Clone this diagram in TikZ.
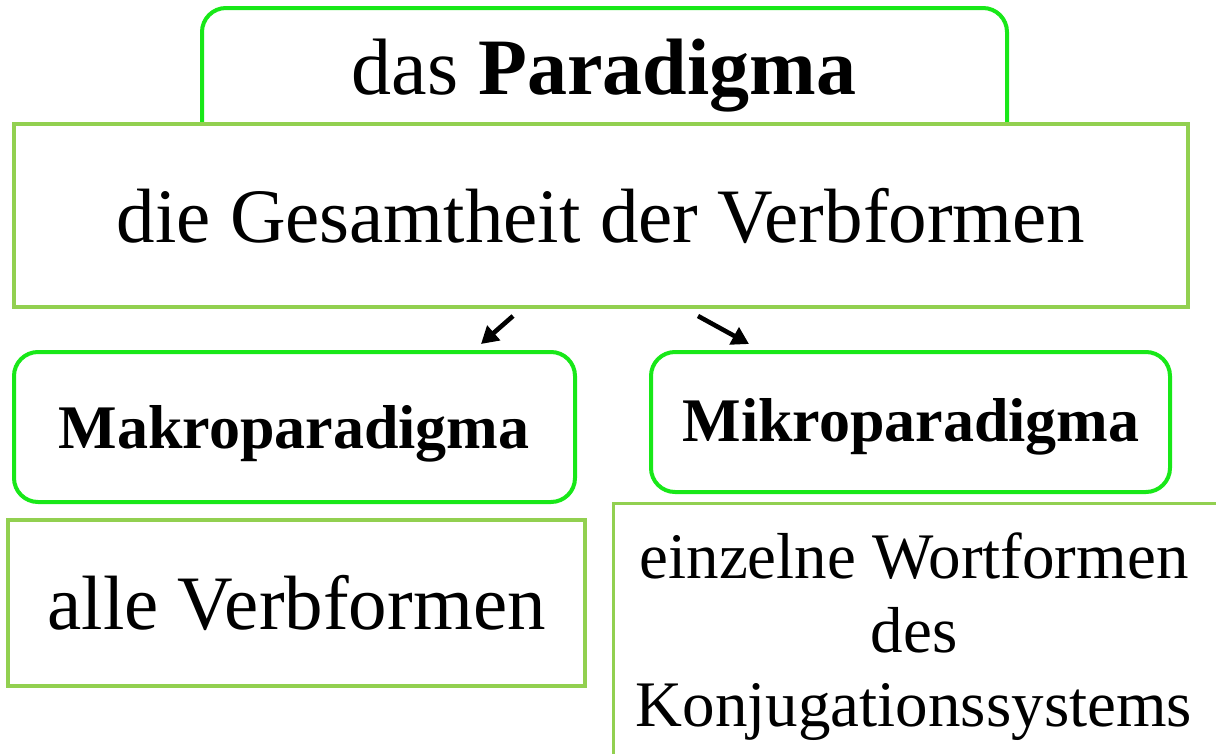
\documentclass[tikz,border=0pt]{standalone}
\usepackage{fontspec}
\setmainfont{Liberation Serif}
\usetikzlibrary{arrows.meta}
\usetikzlibrary{positioning}
\definecolor{neongreen}{RGB}{24,232,24}
\definecolor{leafgreen}{RGB}{146,208,80}
\tikzset{roundbox/.style = {draw = neongreen, line width = 4, fill = white,
                            rounded corners = 24, align = center}}
\tikzset{flatbox/.style = {draw = leafgreen, line width = 3.2, fill = white,
                           align = center}}
\tikzset{hint/.style = {-{Triangle[length = 17, width = 19]}, line width = 4.6}}
\newcommand{\bigtext}{\fontsize{77}{88}\selectfont}
\newcommand{\midtext}{\fontsize{62}{70}\selectfont\bfseries}
\newcommand{\smalltext}{\fontsize{65}{74}\selectfont}

\begin{document}
\begin{tikzpicture}[x = 1pt, y = -1pt]
    \useasboundingbox (0, 0) rectangle (1216, 753);

    \node [roundbox, minimum width = 805, minimum height = 160] (title) at (604.5, 88)
        {};
    \node [flatbox, minimum width = 1174, minimum height = 183] (whole) at (601, 215.5)
        {\bigtext die Gesamtheit der Verbformen};
    \node at (604, 76) (titletext) {\fontsize{80}{92}\selectfont das \textbf{Paradigma}};

    \node [roundbox, minimum width = 561, minimum height = 150] (makro) at (294.5, 427) {};
    \node at (294, 434) (makrotext) {\midtext Makroparadigma};
    \node [roundbox, minimum width = 519, minimum height = 140] (mikro) at (910.5, 422) {};
    \node at (911, 427) (mikrotext) {\midtext Mikroparadigma};

    \node [flatbox, minimum width = 577, minimum height = 166] (alle) at (296.5, 603)
        {\bigtext alle Verbformen};
    \node [flatbox, minimum width = 610, minimum height = 262, anchor = north west] (einzeln)
        at (612, 502) {};
    \node [align = center, font = \smalltext] at (914, 637) (einzelntext)
        {einzelne Wortformen\\ des\\ Konjugationssystems};

    \coordinate (lstart) at (513, 316);
    \coordinate (lend) at (481, 344);
    \coordinate (rstart) at (698, 316);
    \coordinate (rend) at (749, 344);
    \draw [hint] (lstart) -- (lend);
    \draw [hint] (rstart) -- (rend);
\end{tikzpicture}
\end{document}
